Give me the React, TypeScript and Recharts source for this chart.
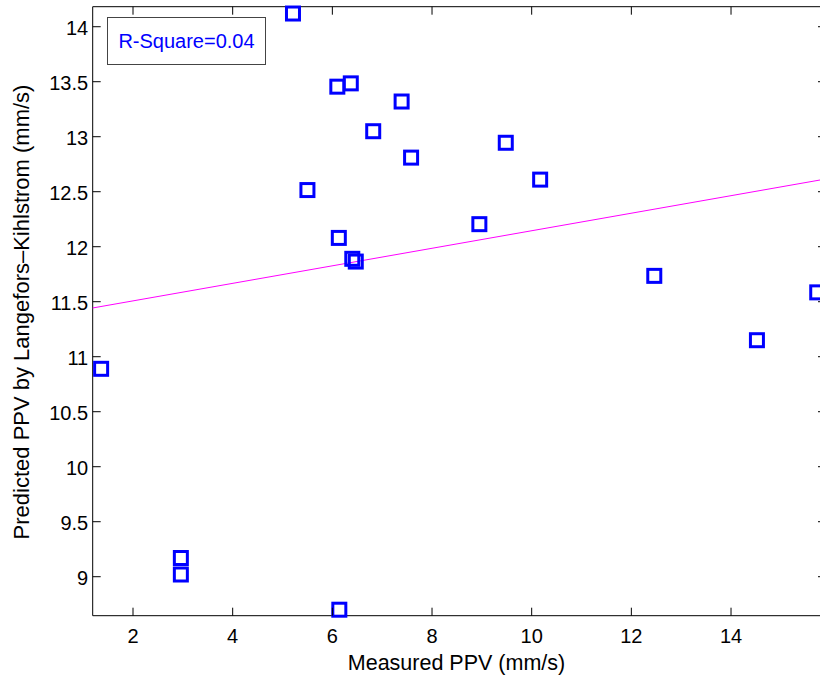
import React from "react";
import { ScatterChart, Scatter, XAxis, YAxis } from "recharts";

const measuredPPV = [1.36, 2.96, 2.96, 6.14, 5.21, 6.10, 6.37, 7.39, 6.82, 7.58, 5.50, 6.13, 6.40, 6.47, 9.48, 10.17, 8.95, 12.46, 14.52, 15.73];
const predictedPPV = [10.89, 9.17, 9.02, 8.70, 14.12, 13.455, 13.485, 13.32, 13.05, 12.81, 12.515, 12.08, 11.89, 11.865, 12.945, 12.61, 12.205, 11.735, 11.15, 11.585];

const fitX = [1.191, 15.906];
const fitY = [11.443, 12.616];

const xTicks = [2, 4, 6, 8, 10, 12, 14];
const yTicks = [9, 9.5, 10, 10.5, 11, 11.5, 12, 12.5, 13, 13.5, 14];
const xDomain = [1.191, 15.906];
const yDomain = [8.6455, 14.182];

const rSquareText = "R-Square=0.04";
const xTitle = "Measured PPV (mm/s)";
const yTitle = "Predicted PPV by Langefors\u2013Kihlstrom (mm/s)";

const points = measuredPPV.map((x, i) => ({ x, y: predictedPPV[i] }));
const fitData = fitX.map((x, i) => ({ x, y: fitY[i] }));

const FONT = "'Liberation Sans', Arial, Helvetica, sans-serif";
const TICK = 8;

const Square = (props: any) => {
  const { cx, cy } = props;
  if (cx == null || cy == null) return <g />;
  const s = 13;
  return (
    <rect x={cx - s / 2} y={cy - s / 2} width={s} height={s} fill="none" stroke="#0000FF" strokeWidth={3} />
  );
};

const BottomTick = (props: any) => {
  const { x, y, payload } = props;
  return (
    <g>
      <line x1={x} x2={x} y1={y} y2={y - TICK} stroke="#000" strokeWidth={1} />
      <text x={x} y={y + 27.6} textAnchor="middle" fontSize={20} fontFamily={FONT} fill="#000">
        {payload.value}
      </text>
    </g>
  );
};

const TopTick = (props: any) => {
  const { x, y } = props;
  return <line x1={x} x2={x} y1={y} y2={y + TICK} stroke="#000" strokeWidth={1} />;
};

const LeftTick = (props: any) => {
  const { x, y, payload } = props;
  return (
    <g>
      <line x1={x} x2={x + TICK} y1={y} y2={y} stroke="#000" strokeWidth={1} />
      <text x={x - 4.5} y={y + 8} textAnchor="end" fontSize={20} fontFamily={FONT} fill="#000">
        {payload.value}
      </text>
    </g>
  );
};

const RightTick = (props: any) => {
  const { x, y } = props;
  return <line x1={x - TICK} x2={x} y1={y} y2={y} stroke="#000" strokeWidth={1} />;
};

export default function App() {
  return (
    <div style={{ position: "absolute", left: 0, top: 0, width: 820, height: 682, overflow: "hidden", background: "#fff" }}>
      <ScatterChart width={830} height={682} margin={{ top: 4.7, right: 2, bottom: 36.3, left: 62.7 }}>
        <XAxis
          xAxisId="b"
          type="number"
          dataKey="x"
          orientation="bottom"
          domain={xDomain}
          ticks={xTicks}
          height={30}
          tickSize={0}
          tickMargin={0}
          tickLine={false}
          axisLine={{ stroke: "#000", strokeWidth: 1 }}
          tick={<BottomTick />}
          interval={0}
        />
        <XAxis
          xAxisId="t"
          type="number"
          dataKey="x"
          orientation="top"
          domain={xDomain}
          ticks={xTicks}
          height={2}
          tickSize={0}
          tickMargin={0}
          tickLine={false}
          axisLine={{ stroke: "#000", strokeWidth: 1 }}
          tick={<TopTick />}
          interval={0}
        />
        <YAxis
          yAxisId="l"
          type="number"
          dataKey="y"
          orientation="left"
          domain={yDomain}
          ticks={yTicks}
          width={30}
          tickSize={0}
          tickMargin={0}
          tickLine={false}
          axisLine={{ stroke: "#000", strokeWidth: 1 }}
          tick={<LeftTick />}
          interval={0}
        />
        <YAxis
          yAxisId="r"
          type="number"
          dataKey="y"
          orientation="right"
          domain={yDomain}
          ticks={yTicks}
          width={2}
          tickSize={0}
          tickMargin={0}
          tickLine={false}
          axisLine={false}
          tick={<RightTick />}
          interval={0}
        />
        <Scatter
          xAxisId="t"
          yAxisId="r"
          data={fitData}
          shape={() => <g />}
          isAnimationActive={false}
          legendType="none"
        />
        <Scatter
          xAxisId="b"
          yAxisId="l"
          data={fitData}
          line={{ stroke: "#FF00FF", strokeWidth: 1 }}
          shape={() => <g />}
          isAnimationActive={false}
        />
        <Scatter
          xAxisId="b"
          yAxisId="l"
          data={points}
          shape={<Square />}
          isAnimationActive={false}
        />
      </ScatterChart>
      <div
        style={{
          position: "absolute",
          left: 107,
          top: 16.5,
          width: 159,
          height: 48,
          boxSizing: "border-box",
          border: "1px solid #444",
          fontFamily: FONT,
          fontSize: 20,
          color: "#0000FF",
          display: "flex",
          alignItems: "center",
          justifyContent: "center",
          lineHeight: 1,
        }}
      >
        {rSquareText}
      </div>
      <div
        style={{
          position: "absolute",
          left: 0,
          top: 651,
          width: 913,
          textAlign: "center",
          fontFamily: FONT,
          fontSize: 21.5,
          lineHeight: "24px",
          color: "#000",
          whiteSpace: "nowrap",
        }}
      >
        {xTitle}
      </div>
      <div
        style={{
          position: "absolute",
          left: 22,
          top: 312,
          width: 0,
          height: 0,
        }}
      >
        <div
          style={{
            position: "absolute",
            left: 0,
            top: 0,
            transform: "translate(-50%, -50%) rotate(-90deg)",
            fontFamily: FONT,
            fontSize: 22,
            lineHeight: "24px",
            whiteSpace: "nowrap",
            color: "#000",
          }}
        >
          {yTitle}
        </div>
      </div>
    </div>
  );
}
